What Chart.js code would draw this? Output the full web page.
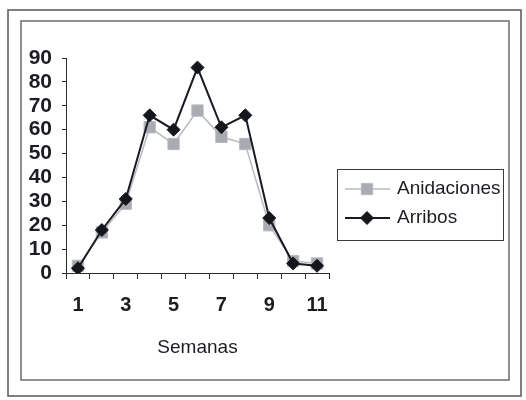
<!DOCTYPE html>
<html>
<head>
<meta charset="utf-8">
<script src="https://cdn.jsdelivr.net/npm/chart.js@4/dist/chart.umd.min.js"></script>
<style>
  html, body { margin: 0; padding: 0; background: #fff; }
  #wrap { width: 526px; height: 400px; position: relative; }
</style>
</head>
<body>
<div id="wrap"><canvas id="c" width="526" height="400"></canvas></div>
<script>
// Weekly counts
const weeks = ['1', '2', '3', '4', '5', '6', '7', '8', '9', '10', '11'];
const anidaciones = [3, 17, 29, 61, 54, 68, 57, 54, 20, 5, 4];
const arribos = [2, 18, 31, 66, 60, 86, 61, 66, 23, 4, 3];
const seriesNames = ['Anidaciones', 'Arribos'];
const xTitle = 'Semanas';
const yMin = 0, yMax = 90, yStep = 10;

const FONT = '"Liberation Sans", Arial, sans-serif';
const INK = '#1c1c22';

// Double frame around the whole figure
const framePlugin = {
  id: 'frames',
  beforeDraw(chart) {
    const ctx = chart.ctx;
    ctx.save();
    ctx.lineWidth = 1.5;
    ctx.strokeStyle = '#55565c';
    ctx.strokeRect(8, 10, 513, 386);
    ctx.strokeStyle = '#6a6b70';
    ctx.strokeRect(21, 21, 488, 359);
    ctx.restore();
  }
};

// Boxed legend with line + marker samples
const legendPlugin = {
  id: 'boxLegend',
  afterDraw(chart) {
    const ctx = chart.ctx;
    ctx.save();
    ctx.lineWidth = 1;
    ctx.strokeStyle = '#3a3a40';
    ctx.strokeRect(337.5, 169.5, 166, 71);
    const rows = [
      { name: seriesNames[0], ds: chart.data.datasets[0], y: 189 },
      { name: seriesNames[1], ds: chart.data.datasets[1], y: 218 }
    ];
    rows.forEach(r => {
      ctx.beginPath();
      ctx.strokeStyle = r.ds.borderColor;
      ctx.lineWidth = r.ds.borderWidth;
      ctx.moveTo(345, r.y);
      ctx.lineTo(390, r.y);
      ctx.stroke();
      ctx.fillStyle = r.ds.pointBackgroundColor;
      ctx.strokeStyle = r.ds.pointBorderColor;
      ctx.lineWidth = 1;
      const cx = 367, cy = r.y;
      ctx.beginPath();
      if (r.ds.pointStyle === 'rectRot') {
        const s = r.ds.pointRadius;
        ctx.moveTo(cx, cy - s);
        ctx.lineTo(cx + s, cy);
        ctx.lineTo(cx, cy + s);
        ctx.lineTo(cx - s, cy);
        ctx.closePath();
      } else {
        const h = r.ds.pointRadius * Math.SQRT1_2;
        ctx.rect(cx - h, cy - h, 2 * h, 2 * h);
      }
      ctx.fill();
      ctx.stroke();
      ctx.fillStyle = INK;
      ctx.font = '19px ' + FONT;
      ctx.textBaseline = 'middle';
      ctx.textAlign = 'left';
      ctx.fillText(r.name, 397, r.y);
    });
    ctx.restore();
  }
};

new Chart(document.getElementById('c'), {
  type: 'line',
  data: {
    labels: weeks,
    datasets: [
      {
        label: seriesNames[0],
        data: anidaciones,
        borderColor: '#b9babf',
        borderWidth: 1.5,
        pointStyle: 'rect',
        pointRadius: 8,
        pointBackgroundColor: '#a9abb3',
        pointBorderColor: '#b8bac0',
        pointBorderWidth: 1,
        tension: 0,
        order: 1
      },
      {
        label: seriesNames[1],
        data: arribos,
        borderColor: '#1a1a22',
        borderWidth: 2,
        pointStyle: 'rectRot',
        pointRadius: 6.5,
        pointBackgroundColor: '#15151c',
        pointBorderColor: '#15151c',
        pointBorderWidth: 1,
        tension: 0,
        order: 0
      }
    ]
  },
  options: {
    responsive: false,
    animation: false,
    devicePixelRatio: 1,
    layout: { padding: { top: 58, right: 197, bottom: 41, left: 0 } },
    plugins: { legend: { display: false }, tooltip: { enabled: false } },
    scales: {
      x: {
        type: 'category',
        offset: true,
        afterFit(scale) { scale.height = 86; },
        border: { color: '#2a2a30', width: 1 },
        grid: { offset: true, drawOnChartArea: false, drawTicks: true, tickLength: 6, color: '#2a2a30' },
        ticks: {
          autoSkip: false,
          maxRotation: 0,
          padding: 14,
          color: INK,
          font: { family: FONT, size: 20, weight: 'bold' },
          callback: (v, i) => (i % 2 === 0 ? weeks[i] : '')
        },
        title: {
          display: true,
          text: xTitle,
          color: INK,
          padding: 0,
          font: { family: FONT, size: 19 }
        }
      },
      y: {
        min: yMin,
        max: yMax,
        afterFit(scale) { scale.width = 66; },
        border: { color: '#2a2a30', width: 1 },
        grid: { drawOnChartArea: false, drawTicks: true, tickLength: 4, color: '#2a2a30' },
        ticks: {
          stepSize: yStep,
          autoSkip: false,
          padding: 10,
          color: INK,
          font: { family: FONT, size: 21, weight: 'bold' }
        }
      }
    }
  },
  plugins: [framePlugin, legendPlugin]
});
</script>
</body>
</html>
